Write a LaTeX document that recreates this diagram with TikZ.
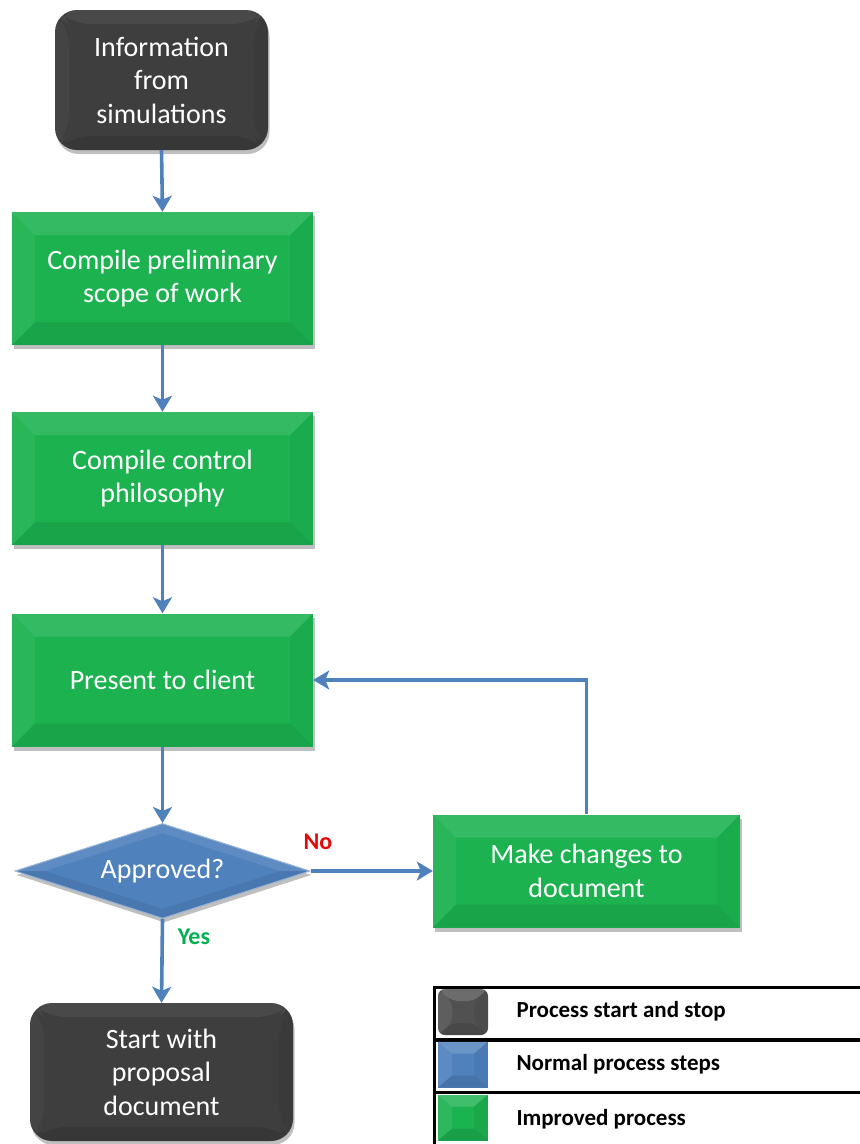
\documentclass[tikz,border=0pt]{standalone}
\usepackage{fontspec}
\setmainfont{Carlito}
\usetikzlibrary{arrows.meta,shapes.geometric,shadows,calc}

\definecolor{boxgreen}{RGB}{28,178,80}
\definecolor{boxdark}{RGB}{62,62,62}
\definecolor{boxblue}{RGB}{79,129,189}
\definecolor{flowblue}{RGB}{79,129,189}
\definecolor{noRed}{RGB}{228,10,10}
\definecolor{yesGreen}{RGB}{0,176,80}

% angled bevel faces drawn inside a node's own path
\newcommand\rectbevel[4]{% h-inset, v-inset, light opacity, dark opacity
  \coordinate (b1) at (path picture bounding box.north west);
  \coordinate (b2) at (path picture bounding box.north east);
  \coordinate (b3) at (path picture bounding box.south east);
  \coordinate (b4) at (path picture bounding box.south west);
  \coordinate (c1) at ($(b1)+(#1,#2)$);
  \coordinate (c2) at ($(b2)+(-#1,#2)$);
  \coordinate (c3) at ($(b3)+(-#1,-#2)$);
  \coordinate (c4) at ($(b4)+(#1,-#2)$);
  \fill[white,opacity=#3] (b1)--(b2)--(c2)--(c1)--cycle;
  \fill[white,opacity=#3*0.5] (b1)--(c1)--(c4)--(b4)--cycle;
  \fill[black,opacity=#4*0.5] (b2)--(b3)--(c3)--(c2)--cycle;
  \fill[black,opacity=#4] (b4)--(c4)--(c3)--(b3)--cycle;
}
\newcommand\diamondbevel{%
  \coordinate (b1) at (path picture bounding box.north west);
  \coordinate (b3) at (path picture bounding box.south east);
  \coordinate (o) at ($(b1)!.5!(b3)$);
  \coordinate (dn) at (o |- b1);
  \coordinate (ds) at (o |- b3);
  \coordinate (dw) at (b1 |- o);
  \coordinate (de) at (b3 |- o);
  \coordinate (in) at ($(dn)!.2!(o)$);
  \coordinate (is) at ($(ds)!.2!(o)$);
  \coordinate (iw) at ($(dw)!.2!(o)$);
  \coordinate (ie) at ($(de)!.2!(o)$);
  \fill[white,opacity=.09] (dw)--(dn)--(de)--(ie)--(in)--(iw)--cycle;
  \fill[black,opacity=.07] (dw)--(ds)--(de)--(ie)--(is)--(iw)--cycle;
}

\tikzset{
  boxtext/.style={text=white, align=center, font=\fontsize{28}{33.5}\selectfont},
  shade/.style={drop shadow={shadow xshift=1.5pt, shadow yshift=-4pt, opacity=0.25, fill=black}},
  greenbox/.style={rectangle, boxtext, fill=boxgreen, inner sep=0pt, shade,
    minimum width=301, minimum height=133,
    path picture={\rectbevel{23}{23}{0.11}{0.08}}},
  darkbox/.style={rectangle, rounded corners=22pt, boxtext, fill=boxdark, inner sep=0pt, shade,
    path picture={\rectbevel{14}{14}{0.06}{0.10}}},
  bluediamond/.style={diamond, boxtext, fill=boxblue, draw=boxblue!60!white, line width=1pt,
    inner sep=0pt, aspect=3.1, minimum width=295, minimum height=95, shade,
    path picture={\diamondbevel}},
  arr/.style={draw=flowblue, line width=3.6pt, -{Stealth[length=16pt,width=19pt,inset=4pt]}},
  swatch/.style={rectangle, inner sep=0pt, minimum width=50, minimum height=46,
    path picture={\rectbevel{14}{12}{0.16}{0.10}}},
  legendrow/.style={rectangle, draw=black, line width=3pt, inner sep=0pt,
    minimum width=429, minimum height=53, anchor=north west},
  legendtext/.style={anchor=west, font=\bfseries\fontsize{23}{27}\selectfont},
  answer/.style={font=\bfseries\fontsize{24}{28}\selectfont}
}

\begin{document}
\begin{tikzpicture}[x=1pt, y=-1pt]
  \useasboundingbox (0,0) rectangle (860,1144);
  \fill[white] (0,0) rectangle (860,1144);

  % main flow
  \node[darkbox, minimum width=213, minimum height=140] (info) at (161.5,80)
    {Information\\from\\simulations};
  \node[greenbox] (scope) at (162.5,278.5) {Compile preliminary\\scope of work};
  \node[greenbox] (control) at (162.5,478.5) {Compile control\\philosophy};
  \node[greenbox] (present) at (162.5,680) {Present to client};
  \node[bluediamond] (approved) at (162.5,871) {Approved?};
  \node[greenbox, minimum width=307, minimum height=113] (changes) at (586.5,871)
    {Make changes to\\document};
  \node[darkbox, minimum width=263, minimum height=138] (proposal) at (161.5,1072)
    {Start with\\proposal\\document};

  % connectors
  \draw[arr] (info.south) -- (scope.north);
  \draw[arr] (scope.south) -- (control.north);
  \draw[arr] (control.south) -- (present.north);
  \draw[arr] (present.south) -- (approved.north);
  \draw[arr] (approved.east) -- (changes.west);
  \draw[arr] (changes.north) |- (present.east);
  \draw[arr] (approved.south) -- (proposal.north);

  \node[answer, text=noRed] (no) at (318,842) {No};
  \node[answer, text=yesGreen] (yes) at (194,937) {Yes};

  % legend
  \node[legendrow] (row1) at (433,985.5) {};
  \node[legendrow] (row2) at (433,1038) {};
  \node[legendrow] (row3) at (433,1090.5) {};
  \node[swatch, fill=boxdark!90!white, rounded corners=7pt] (sw1) at (463,1012) {};
  \node[swatch, fill=boxblue] (sw2) at (463,1064.5) {};
  \node[swatch, fill=boxgreen] (sw3) at (463,1117.5) {};
  \node[legendtext] (lt1) at (513,1011) {Process start and stop};
  \node[legendtext] (lt2) at (513,1064) {Normal process steps};
  \node[legendtext] (lt3) at (513,1119) {Improved process};
\end{tikzpicture}
\end{document}
